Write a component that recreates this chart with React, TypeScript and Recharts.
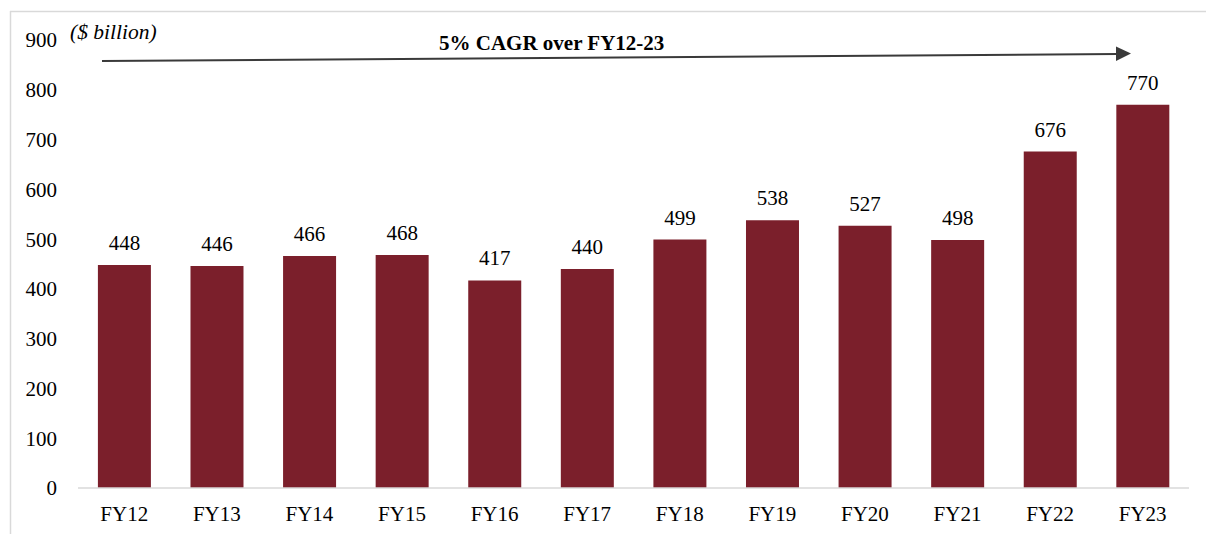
import { BarChart, Bar, XAxis, YAxis, LabelList } from 'recharts'

const years = ['FY12', 'FY13', 'FY14', 'FY15', 'FY16', 'FY17', 'FY18', 'FY19', 'FY20', 'FY21', 'FY22', 'FY23']
const values = [448, 446, 466, 468, 417, 440, 499, 538, 527, 498, 676, 770]
const yTicks = [0, 100, 200, 300, 400, 500, 600, 700, 800, 900]

const data = years.map((year, i) => ({ year, value: values[i] }))

const font = '"Liberation Serif", "Times New Roman", serif'

export default function App() {
  return (
    <div style={{ position: 'absolute', left: 0, top: 0, width: 1206, height: 534, background: '#fff', fontFamily: font }}>
      <BarChart width={1206} height={534} data={data} margin={{ top: 40, right: 17, bottom: 0, left: 0 }} barCategoryGap="21.5%">
        <XAxis
          dataKey="year"
          height={46}
          tickLine={false}
          tickSize={0}
          tickMargin={18}
          axisLine={{ stroke: '#d9d9d9', strokeWidth: 1.5 }}
          tick={{ fill: '#000', fontSize: 21, fontFamily: font }}
        />
        <YAxis
          width={78}
          domain={[0, 900]}
          ticks={yTicks}
          interval={0}
          axisLine={false}
          tickLine={false}
          tickSize={0}
          tickMargin={21}
          tick={{ fill: '#000', fontSize: 21, fontFamily: font }}
        />
        <Bar dataKey="value" fill="#7b1f2b" isAnimationActive={false}>
          <LabelList dataKey="value" position="top" offset={15} style={{ fill: '#000', fontSize: 21, fontFamily: font }} />
        </Bar>
      </BarChart>
      <svg width={1206} height={534} style={{ position: 'absolute', left: 0, top: 0, pointerEvents: 'none' }}>
        <line x1={10} y1={11.5} x2={1206} y2={11.5} stroke="#d9d9d9" strokeWidth={1.5} />
        <line x1={10.5} y1={11} x2={10.5} y2={534} stroke="#d9d9d9" strokeWidth={1.5} />
        <text x={70} y={39} fontSize={21.5} fontStyle="italic" fontFamily={font} fill="#000">($ billion)</text>
        <text x={439} y={50} fontSize={21} fontWeight="bold" fontFamily={font} fill="#000">5% CAGR over FY12-23</text>
        <line x1={102} y1={61} x2={1118} y2={54} stroke="#3a3a3a" strokeWidth={2} />
        <polygon points="1116,46.5 1131,53.5 1116,61" fill="#3a3a3a" />
      </svg>
    </div>
  )
}
